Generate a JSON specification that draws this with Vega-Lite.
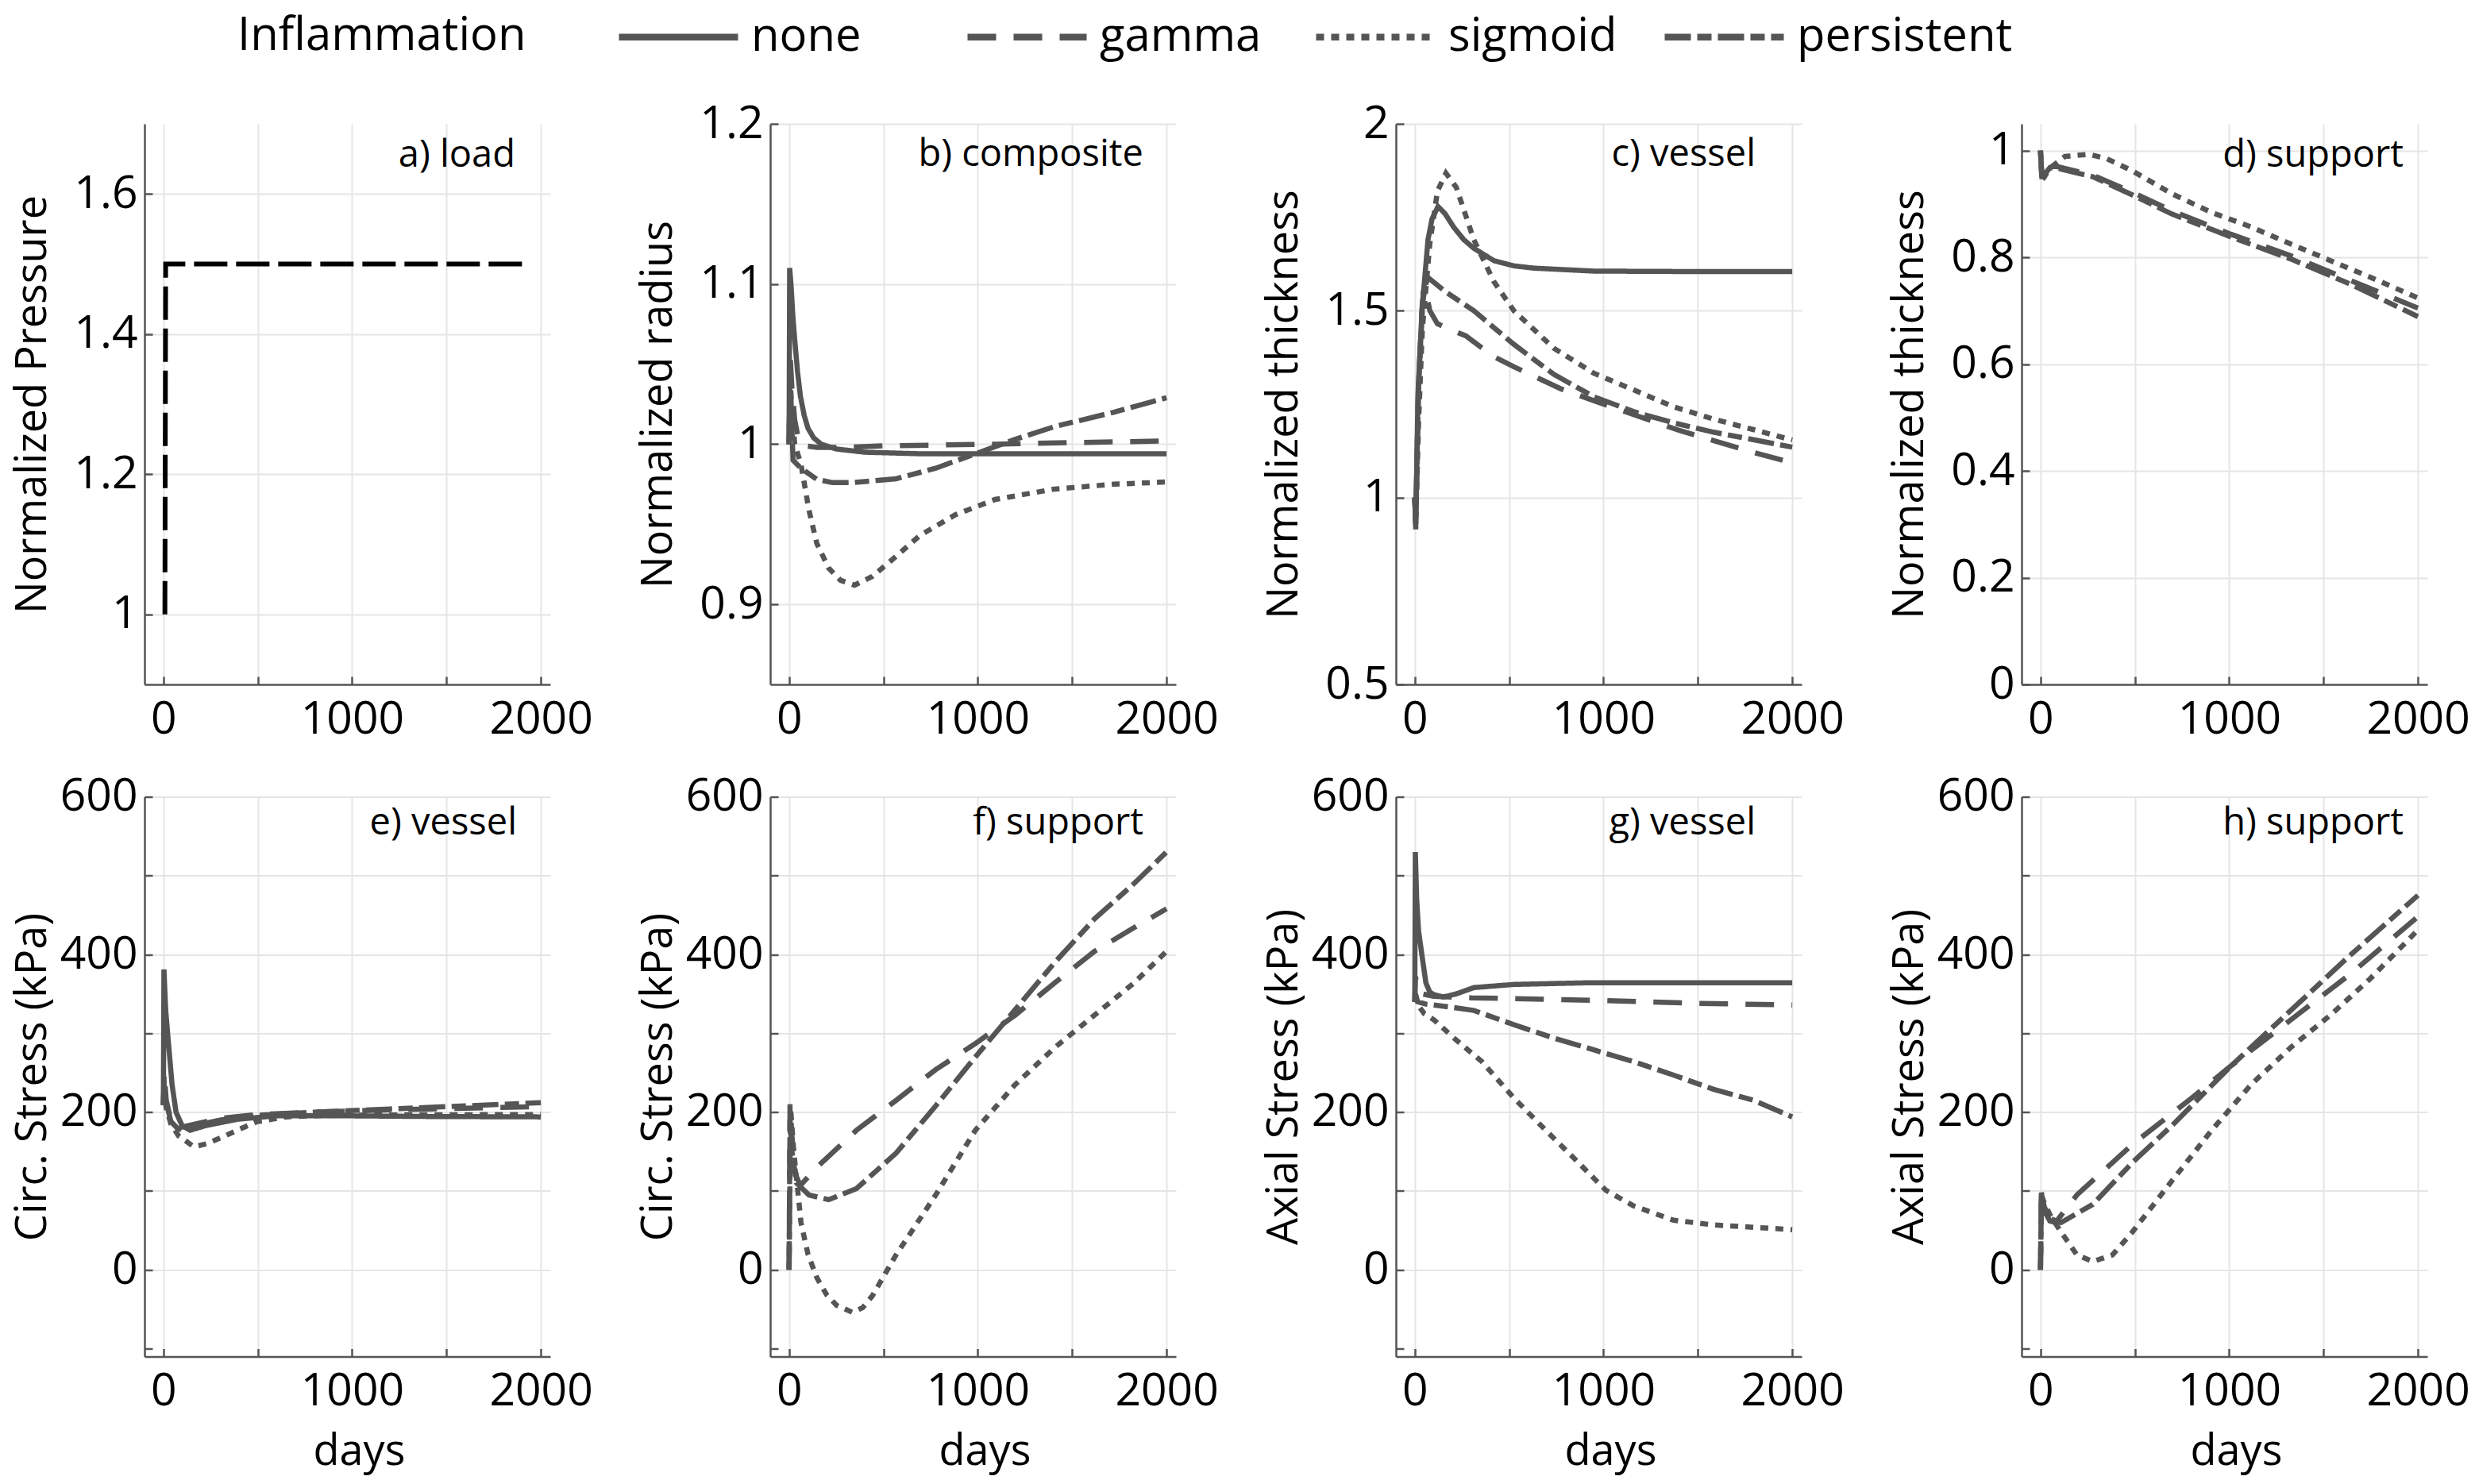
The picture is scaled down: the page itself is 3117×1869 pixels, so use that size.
{
  "$schema": "https://vega.github.io/schema/vega-lite/v6.json",
  "background": "white",
  "padding": {"left": 14, "top": 17, "right": 4, "bottom": 12},
  "columns": 4,
  "spacing": {"row": 141.5, "column": 277},
  "bounds": "flush",
  "align": "all",
  "config": {
    "view": {"stroke": null},
    "font": "Open Sans",
    "axis": {
      "labelFont": "Open Sans", "labelFontSize": 57, "labelColor": "black",
      "titleFont": "Open Sans", "titleFontSize": 54, "titleFontWeight": "normal", "titleColor": "black",
      "titleLimit": 2000, "labelLimit": 400,
      "domainColor": "#555555", "domainWidth": 2.5,
      "gridColor": "#e5e5e5", "gridWidth": 2,
      "tickColor": "#555555", "tickWidth": 2.5, "tickSize": -10,
      "labelOverlap": false, "labelFlush": false
    },
    "axisX": {"labelPadding": 26},
    "axisY": {"labelPadding": 19},
    "title": {"font": "Open Sans", "fontSize": 47, "fontWeight": "normal", "color": "black", "anchor": "end", "frame": "group", "orient": "top", "baseline": "alphabetic"}
  },
  "datasets": {
    "curves": [
      {"panel":"a","day":8,"value":1.0},{"panel":"a","day":12,"value":1.5},{"panel":"a","day":1940,"value":1.5},

      {"panel":"b","inflammation":"none","day":0,"value":1.0},{"panel":"b","inflammation":"none","day":3,"value":1.11},{"panel":"b","inflammation":"none","day":10,"value":1.1},{"panel":"b","inflammation":"none","day":20,"value":1.08},{"panel":"b","inflammation":"none","day":30,"value":1.065},{"panel":"b","inflammation":"none","day":45,"value":1.045},{"panel":"b","inflammation":"none","day":60,"value":1.03},{"panel":"b","inflammation":"none","day":80,"value":1.018},{"panel":"b","inflammation":"none","day":100,"value":1.01},{"panel":"b","inflammation":"none","day":130,"value":1.004},{"panel":"b","inflammation":"none","day":170,"value":1.0},{"panel":"b","inflammation":"none","day":250,"value":0.997},{"panel":"b","inflammation":"none","day":400,"value":0.995},{"panel":"b","inflammation":"none","day":700,"value":0.994},{"panel":"b","inflammation":"none","day":1200,"value":0.994},{"panel":"b","inflammation":"none","day":2000,"value":0.994},
      {"panel":"b","inflammation":"gamma","day":0,"value":1.0},{"panel":"b","inflammation":"gamma","day":6,"value":1.055},{"panel":"b","inflammation":"gamma","day":15,"value":1.035},{"panel":"b","inflammation":"gamma","day":30,"value":1.015},{"panel":"b","inflammation":"gamma","day":50,"value":1.003},{"panel":"b","inflammation":"gamma","day":80,"value":0.999},{"panel":"b","inflammation":"gamma","day":150,"value":0.998},{"panel":"b","inflammation":"gamma","day":300,"value":0.998},{"panel":"b","inflammation":"gamma","day":500,"value":0.999},{"panel":"b","inflammation":"gamma","day":800,"value":0.9995},{"panel":"b","inflammation":"gamma","day":1100,"value":1.0},{"panel":"b","inflammation":"gamma","day":1500,"value":1.001},{"panel":"b","inflammation":"gamma","day":2000,"value":1.002},
      {"panel":"b","inflammation":"sigmoid","day":0,"value":1.0},{"panel":"b","inflammation":"sigmoid","day":5,"value":1.04},{"panel":"b","inflammation":"sigmoid","day":15,"value":1.02},{"panel":"b","inflammation":"sigmoid","day":30,"value":1.0},{"panel":"b","inflammation":"sigmoid","day":63,"value":0.9875},{"panel":"b","inflammation":"sigmoid","day":105,"value":0.959},{"panel":"b","inflammation":"sigmoid","day":147,"value":0.938},{"panel":"b","inflammation":"sigmoid","day":210,"value":0.9226},{"panel":"b","inflammation":"sigmoid","day":273,"value":0.915},{"panel":"b","inflammation":"sigmoid","day":347,"value":0.912},{"panel":"b","inflammation":"sigmoid","day":441,"value":0.9174},{"panel":"b","inflammation":"sigmoid","day":567,"value":0.93},{"panel":"b","inflammation":"sigmoid","day":693,"value":0.943},{"panel":"b","inflammation":"sigmoid","day":882,"value":0.956},{"panel":"b","inflammation":"sigmoid","day":1092,"value":0.9655},{"panel":"b","inflammation":"sigmoid","day":1407,"value":0.972},{"panel":"b","inflammation":"sigmoid","day":1722,"value":0.975},{"panel":"b","inflammation":"sigmoid","day":2000,"value":0.9764},
      {"panel":"b","inflammation":"persistent","day":0,"value":1.0},{"panel":"b","inflammation":"persistent","day":5,"value":1.05},{"panel":"b","inflammation":"persistent","day":12,"value":1.02},{"panel":"b","inflammation":"persistent","day":21,"value":0.99},{"panel":"b","inflammation":"persistent","day":63,"value":0.985},{"panel":"b","inflammation":"persistent","day":147,"value":0.978},{"panel":"b","inflammation":"persistent","day":231,"value":0.976},{"panel":"b","inflammation":"persistent","day":336,"value":0.976},{"panel":"b","inflammation":"persistent","day":567,"value":0.9784},{"panel":"b","inflammation":"persistent","day":777,"value":0.985},{"panel":"b","inflammation":"persistent","day":987,"value":0.994},{"panel":"b","inflammation":"persistent","day":1197,"value":1.003},{"panel":"b","inflammation":"persistent","day":1407,"value":1.011},{"panel":"b","inflammation":"persistent","day":1722,"value":1.02},{"panel":"b","inflammation":"persistent","day":2000,"value":1.029},

      {"panel":"c","inflammation":"none","day":0,"value":1.0},{"panel":"c","inflammation":"none","day":5,"value":0.915},{"panel":"c","inflammation":"none","day":17,"value":1.277},{"panel":"c","inflammation":"none","day":38,"value":1.5},{"panel":"c","inflammation":"none","day":70,"value":1.69},{"panel":"c","inflammation":"none","day":91,"value":1.745},{"panel":"c","inflammation":"none","day":123,"value":1.779},{"panel":"c","inflammation":"none","day":160,"value":1.76},{"panel":"c","inflammation":"none","day":207,"value":1.723},{"panel":"c","inflammation":"none","day":260,"value":1.69},{"panel":"c","inflammation":"none","day":313,"value":1.667},{"panel":"c","inflammation":"none","day":419,"value":1.634},{"panel":"c","inflammation":"none","day":525,"value":1.62},{"panel":"c","inflammation":"none","day":630,"value":1.614},{"panel":"c","inflammation":"none","day":948,"value":1.606},{"panel":"c","inflammation":"none","day":1400,"value":1.605},{"panel":"c","inflammation":"none","day":2000,"value":1.605},
      {"panel":"c","inflammation":"sigmoid","day":0,"value":1.0},{"panel":"c","inflammation":"sigmoid","day":5,"value":0.93},{"panel":"c","inflammation":"sigmoid","day":20,"value":1.2},{"panel":"c","inflammation":"sigmoid","day":40,"value":1.45},{"panel":"c","inflammation":"sigmoid","day":80,"value":1.68},{"panel":"c","inflammation":"sigmoid","day":120,"value":1.82},{"panel":"c","inflammation":"sigmoid","day":165,"value":1.868},{"panel":"c","inflammation":"sigmoid","day":220,"value":1.83},{"panel":"c","inflammation":"sigmoid","day":313,"value":1.69},{"panel":"c","inflammation":"sigmoid","day":419,"value":1.578},{"panel":"c","inflammation":"sigmoid","day":525,"value":1.5},{"panel":"c","inflammation":"sigmoid","day":736,"value":1.4},{"panel":"c","inflammation":"sigmoid","day":948,"value":1.333},{"panel":"c","inflammation":"sigmoid","day":1160,"value":1.288},{"panel":"c","inflammation":"sigmoid","day":1371,"value":1.243},{"panel":"c","inflammation":"sigmoid","day":1583,"value":1.21},{"panel":"c","inflammation":"sigmoid","day":1794,"value":1.182},{"panel":"c","inflammation":"sigmoid","day":2000,"value":1.154},
      {"panel":"c","inflammation":"gamma","day":0,"value":1.0},{"panel":"c","inflammation":"gamma","day":5,"value":0.93},{"panel":"c","inflammation":"gamma","day":20,"value":1.3},{"panel":"c","inflammation":"gamma","day":40,"value":1.52},{"panel":"c","inflammation":"gamma","day":55,"value":1.56},{"panel":"c","inflammation":"gamma","day":80,"value":1.5},{"panel":"c","inflammation":"gamma","day":120,"value":1.465},{"panel":"c","inflammation":"gamma","day":186,"value":1.45},{"panel":"c","inflammation":"gamma","day":270,"value":1.433},{"panel":"c","inflammation":"gamma","day":419,"value":1.377},{"panel":"c","inflammation":"gamma","day":525,"value":1.35},{"panel":"c","inflammation":"gamma","day":694,"value":1.31},{"panel":"c","inflammation":"gamma","day":779,"value":1.29},{"panel":"c","inflammation":"gamma","day":1000,"value":1.25},{"panel":"c","inflammation":"gamma","day":1200,"value":1.215},{"panel":"c","inflammation":"gamma","day":1400,"value":1.18},{"panel":"c","inflammation":"gamma","day":1600,"value":1.15},{"panel":"c","inflammation":"gamma","day":1800,"value":1.12},{"panel":"c","inflammation":"gamma","day":2000,"value":1.093},
      {"panel":"c","inflammation":"persistent","day":0,"value":1.0},{"panel":"c","inflammation":"persistent","day":5,"value":0.93},{"panel":"c","inflammation":"persistent","day":20,"value":1.3},{"panel":"c","inflammation":"persistent","day":45,"value":1.55},{"panel":"c","inflammation":"persistent","day":70,"value":1.589},{"panel":"c","inflammation":"persistent","day":165,"value":1.55},{"panel":"c","inflammation":"persistent","day":313,"value":1.5},{"panel":"c","inflammation":"persistent","day":525,"value":1.41},{"panel":"c","inflammation":"persistent","day":736,"value":1.33},{"panel":"c","inflammation":"persistent","day":948,"value":1.27},{"panel":"c","inflammation":"persistent","day":1160,"value":1.23},{"panel":"c","inflammation":"persistent","day":1371,"value":1.2},{"panel":"c","inflammation":"persistent","day":1583,"value":1.175},{"panel":"c","inflammation":"persistent","day":1794,"value":1.155},{"panel":"c","inflammation":"persistent","day":2000,"value":1.135},

      {"panel":"d","inflammation":"sigmoid","day":0,"value":1.0},{"panel":"d","inflammation":"sigmoid","day":8,"value":0.945},{"panel":"d","inflammation":"sigmoid","day":20,"value":0.95},{"panel":"d","inflammation":"sigmoid","day":46,"value":0.966},{"panel":"d","inflammation":"sigmoid","day":130,"value":0.989},{"panel":"d","inflammation":"sigmoid","day":256,"value":0.993},{"panel":"d","inflammation":"sigmoid","day":350,"value":0.985},{"panel":"d","inflammation":"sigmoid","day":487,"value":0.962},{"panel":"d","inflammation":"sigmoid","day":697,"value":0.919},{"panel":"d","inflammation":"sigmoid","day":907,"value":0.884},{"panel":"d","inflammation":"sigmoid","day":1116,"value":0.857},{"panel":"d","inflammation":"sigmoid","day":1326,"value":0.825},{"panel":"d","inflammation":"sigmoid","day":1536,"value":0.794},{"panel":"d","inflammation":"sigmoid","day":1746,"value":0.763},{"panel":"d","inflammation":"sigmoid","day":2000,"value":0.724},
      {"panel":"d","inflammation":"gamma","day":0,"value":1.0},{"panel":"d","inflammation":"gamma","day":8,"value":0.945},{"panel":"d","inflammation":"gamma","day":20,"value":0.955},{"panel":"d","inflammation":"gamma","day":50,"value":0.97},{"panel":"d","inflammation":"gamma","day":88,"value":0.97},{"panel":"d","inflammation":"gamma","day":277,"value":0.954},{"panel":"d","inflammation":"gamma","day":487,"value":0.922},{"panel":"d","inflammation":"gamma","day":697,"value":0.887},{"panel":"d","inflammation":"gamma","day":1011,"value":0.843},{"panel":"d","inflammation":"gamma","day":1326,"value":0.803},{"panel":"d","inflammation":"gamma","day":1641,"value":0.757},{"panel":"d","inflammation":"gamma","day":2000,"value":0.705},
      {"panel":"d","inflammation":"persistent","day":0,"value":1.0},{"panel":"d","inflammation":"persistent","day":8,"value":0.945},{"panel":"d","inflammation":"persistent","day":20,"value":0.955},{"panel":"d","inflammation":"persistent","day":50,"value":0.968},{"panel":"d","inflammation":"persistent","day":88,"value":0.967},{"panel":"d","inflammation":"persistent","day":277,"value":0.951},{"panel":"d","inflammation":"persistent","day":487,"value":0.917},{"panel":"d","inflammation":"persistent","day":697,"value":0.881},{"panel":"d","inflammation":"persistent","day":1011,"value":0.838},{"panel":"d","inflammation":"persistent","day":1326,"value":0.797},{"panel":"d","inflammation":"persistent","day":1641,"value":0.75},{"panel":"d","inflammation":"persistent","day":2000,"value":0.689},

      {"panel":"e","inflammation":"none","day":0,"value":209},{"panel":"e","inflammation":"none","day":3,"value":381},{"panel":"e","inflammation":"none","day":12,"value":330},{"panel":"e","inflammation":"none","day":25,"value":293},{"panel":"e","inflammation":"none","day":46,"value":235},{"panel":"e","inflammation":"none","day":67,"value":200},{"panel":"e","inflammation":"none","day":99,"value":183},{"panel":"e","inflammation":"none","day":141,"value":177},{"panel":"e","inflammation":"none","day":225,"value":183},{"panel":"e","inflammation":"none","day":393,"value":191},{"panel":"e","inflammation":"none","day":603,"value":195.5},{"panel":"e","inflammation":"none","day":900,"value":195.5},{"panel":"e","inflammation":"none","day":1400,"value":194.5},{"panel":"e","inflammation":"none","day":2000,"value":194},
      {"panel":"e","inflammation":"gamma","day":0,"value":209},{"panel":"e","inflammation":"gamma","day":4,"value":250},{"panel":"e","inflammation":"gamma","day":15,"value":215},{"panel":"e","inflammation":"gamma","day":40,"value":190},{"panel":"e","inflammation":"gamma","day":80,"value":180},{"panel":"e","inflammation":"gamma","day":150,"value":184},{"panel":"e","inflammation":"gamma","day":300,"value":192},{"panel":"e","inflammation":"gamma","day":500,"value":197},{"panel":"e","inflammation":"gamma","day":800,"value":200},{"panel":"e","inflammation":"gamma","day":1200,"value":203},{"panel":"e","inflammation":"gamma","day":1600,"value":205},{"panel":"e","inflammation":"gamma","day":2000,"value":207},
      {"panel":"e","inflammation":"persistent","day":0,"value":209},{"panel":"e","inflammation":"persistent","day":4,"value":240},{"panel":"e","inflammation":"persistent","day":15,"value":212},{"panel":"e","inflammation":"persistent","day":40,"value":188},{"panel":"e","inflammation":"persistent","day":80,"value":178},{"panel":"e","inflammation":"persistent","day":150,"value":182},{"panel":"e","inflammation":"persistent","day":300,"value":190},{"panel":"e","inflammation":"persistent","day":500,"value":196},{"panel":"e","inflammation":"persistent","day":800,"value":200},{"panel":"e","inflammation":"persistent","day":1200,"value":204},{"panel":"e","inflammation":"persistent","day":1600,"value":208},{"panel":"e","inflammation":"persistent","day":2000,"value":212},
      {"panel":"e","inflammation":"sigmoid","day":0,"value":209},{"panel":"e","inflammation":"sigmoid","day":4,"value":230},{"panel":"e","inflammation":"sigmoid","day":15,"value":205},{"panel":"e","inflammation":"sigmoid","day":40,"value":185},{"panel":"e","inflammation":"sigmoid","day":80,"value":170},{"panel":"e","inflammation":"sigmoid","day":162,"value":156},{"panel":"e","inflammation":"sigmoid","day":230,"value":160},{"panel":"e","inflammation":"sigmoid","day":309,"value":168},{"panel":"e","inflammation":"sigmoid","day":400,"value":178},{"panel":"e","inflammation":"sigmoid","day":498,"value":188},{"panel":"e","inflammation":"sigmoid","day":650,"value":194},{"panel":"e","inflammation":"sigmoid","day":800,"value":195.5},{"panel":"e","inflammation":"sigmoid","day":1200,"value":196.5},{"panel":"e","inflammation":"sigmoid","day":2000,"value":197},

      {"panel":"f","inflammation":"gamma","day":0,"value":0},{"panel":"f","inflammation":"gamma","day":5,"value":210},{"panel":"f","inflammation":"gamma","day":15,"value":170},{"panel":"f","inflammation":"gamma","day":35,"value":120},{"panel":"f","inflammation":"gamma","day":60,"value":107},{"panel":"f","inflammation":"gamma","day":147,"value":130},{"panel":"f","inflammation":"gamma","day":357,"value":177},{"panel":"f","inflammation":"gamma","day":567,"value":215},{"panel":"f","inflammation":"gamma","day":777,"value":254},{"panel":"f","inflammation":"gamma","day":987,"value":287},{"panel":"f","inflammation":"gamma","day":1198,"value":323},{"panel":"f","inflammation":"gamma","day":1408,"value":364},{"panel":"f","inflammation":"gamma","day":1618,"value":404},{"panel":"f","inflammation":"gamma","day":1828,"value":434},{"panel":"f","inflammation":"gamma","day":2000,"value":458},
      {"panel":"f","inflammation":"persistent","day":0,"value":0},{"panel":"f","inflammation":"persistent","day":5,"value":190},{"panel":"f","inflammation":"persistent","day":15,"value":150},{"panel":"f","inflammation":"persistent","day":40,"value":110},{"panel":"f","inflammation":"persistent","day":105,"value":95},{"panel":"f","inflammation":"persistent","day":210,"value":89},{"panel":"f","inflammation":"persistent","day":357,"value":103},{"panel":"f","inflammation":"persistent","day":567,"value":148},{"panel":"f","inflammation":"persistent","day":777,"value":208},{"panel":"f","inflammation":"persistent","day":987,"value":270},{"panel":"f","inflammation":"persistent","day":1198,"value":330},{"panel":"f","inflammation":"persistent","day":1408,"value":390},{"panel":"f","inflammation":"persistent","day":1618,"value":445},{"panel":"f","inflammation":"persistent","day":1828,"value":490},{"panel":"f","inflammation":"persistent","day":2000,"value":530},
      {"panel":"f","inflammation":"sigmoid","day":0,"value":0},{"panel":"f","inflammation":"sigmoid","day":8,"value":205},{"panel":"f","inflammation":"sigmoid","day":25,"value":150},{"panel":"f","inflammation":"sigmoid","day":63,"value":60},{"panel":"f","inflammation":"sigmoid","day":100,"value":20},{"panel":"f","inflammation":"sigmoid","day":147,"value":-10},{"panel":"f","inflammation":"sigmoid","day":200,"value":-32},{"panel":"f","inflammation":"sigmoid","day":252,"value":-45},{"panel":"f","inflammation":"sigmoid","day":336,"value":-54},{"panel":"f","inflammation":"sigmoid","day":390,"value":-48},{"panel":"f","inflammation":"sigmoid","day":441,"value":-33},{"panel":"f","inflammation":"sigmoid","day":567,"value":19},{"panel":"f","inflammation":"sigmoid","day":777,"value":95},{"panel":"f","inflammation":"sigmoid","day":987,"value":177},{"panel":"f","inflammation":"sigmoid","day":1198,"value":235},{"panel":"f","inflammation":"sigmoid","day":1408,"value":282},{"panel":"f","inflammation":"sigmoid","day":1618,"value":323},{"panel":"f","inflammation":"sigmoid","day":1828,"value":364},{"panel":"f","inflammation":"sigmoid","day":2000,"value":404},

      {"panel":"g","inflammation":"none","day":0,"value":340},{"panel":"g","inflammation":"none","day":3,"value":530},{"panel":"g","inflammation":"none","day":10,"value":470},{"panel":"g","inflammation":"none","day":20,"value":430},{"panel":"g","inflammation":"none","day":38,"value":399},{"panel":"g","inflammation":"none","day":59,"value":364},{"panel":"g","inflammation":"none","day":80,"value":352},{"panel":"g","inflammation":"none","day":102,"value":349},{"panel":"g","inflammation":"none","day":150,"value":346},{"panel":"g","inflammation":"none","day":220,"value":350},{"panel":"g","inflammation":"none","day":313,"value":358},{"panel":"g","inflammation":"none","day":525,"value":362},{"panel":"g","inflammation":"none","day":900,"value":364},{"panel":"g","inflammation":"none","day":2000,"value":364},
      {"panel":"g","inflammation":"gamma","day":0,"value":340},{"panel":"g","inflammation":"gamma","day":4,"value":372},{"panel":"g","inflammation":"gamma","day":15,"value":355},{"panel":"g","inflammation":"gamma","day":40,"value":350},{"panel":"g","inflammation":"gamma","day":100,"value":347},{"panel":"g","inflammation":"gamma","day":300,"value":345},{"panel":"g","inflammation":"gamma","day":525,"value":344},{"panel":"g","inflammation":"gamma","day":1000,"value":341.5},{"panel":"g","inflammation":"gamma","day":1500,"value":338},{"panel":"g","inflammation":"gamma","day":2000,"value":336},
      {"panel":"g","inflammation":"persistent","day":0,"value":340},{"panel":"g","inflammation":"persistent","day":4,"value":350},{"panel":"g","inflammation":"persistent","day":15,"value":340},{"panel":"g","inflammation":"persistent","day":59,"value":337},{"panel":"g","inflammation":"persistent","day":200,"value":333},{"panel":"g","inflammation":"persistent","day":313,"value":329},{"panel":"g","inflammation":"persistent","day":525,"value":311},{"panel":"g","inflammation":"persistent","day":736,"value":294},{"panel":"g","inflammation":"persistent","day":948,"value":279},{"panel":"g","inflammation":"persistent","day":1160,"value":264},{"panel":"g","inflammation":"persistent","day":1371,"value":247},{"panel":"g","inflammation":"persistent","day":1583,"value":229},{"panel":"g","inflammation":"persistent","day":1795,"value":215},{"panel":"g","inflammation":"persistent","day":2000,"value":194},
      {"panel":"g","inflammation":"sigmoid","day":0,"value":340},{"panel":"g","inflammation":"sigmoid","day":4,"value":345},{"panel":"g","inflammation":"sigmoid","day":20,"value":335},{"panel":"g","inflammation":"sigmoid","day":50,"value":325},{"panel":"g","inflammation":"sigmoid","day":102,"value":317},{"panel":"g","inflammation":"sigmoid","day":207,"value":294},{"panel":"g","inflammation":"sigmoid","day":356,"value":264},{"panel":"g","inflammation":"sigmoid","day":525,"value":218},{"panel":"g","inflammation":"sigmoid","day":694,"value":177},{"panel":"g","inflammation":"sigmoid","day":842,"value":142},{"panel":"g","inflammation":"sigmoid","day":1012,"value":101},{"panel":"g","inflammation":"sigmoid","day":1160,"value":81},{"panel":"g","inflammation":"sigmoid","day":1371,"value":63},{"panel":"g","inflammation":"sigmoid","day":1583,"value":57},{"panel":"g","inflammation":"sigmoid","day":1795,"value":54},{"panel":"g","inflammation":"sigmoid","day":2000,"value":51},

      {"panel":"h","inflammation":"gamma","day":0,"value":0},{"panel":"h","inflammation":"gamma","day":5,"value":95},{"panel":"h","inflammation":"gamma","day":20,"value":75},{"panel":"h","inflammation":"gamma","day":50,"value":62},{"panel":"h","inflammation":"gamma","day":80,"value":60},{"panel":"h","inflammation":"gamma","day":193,"value":95},{"panel":"h","inflammation":"gamma","day":487,"value":159},{"panel":"h","inflammation":"gamma","day":802,"value":218},{"panel":"h","inflammation":"gamma","day":1011,"value":259},{"panel":"h","inflammation":"gamma","day":1326,"value":317},{"panel":"h","inflammation":"gamma","day":1641,"value":375},{"panel":"h","inflammation":"gamma","day":2000,"value":448},
      {"panel":"h","inflammation":"persistent","day":0,"value":0},{"panel":"h","inflammation":"persistent","day":5,"value":98},{"panel":"h","inflammation":"persistent","day":20,"value":80},{"panel":"h","inflammation":"persistent","day":50,"value":65},{"panel":"h","inflammation":"persistent","day":109,"value":60},{"panel":"h","inflammation":"persistent","day":277,"value":83},{"panel":"h","inflammation":"persistent","day":487,"value":136},{"panel":"h","inflammation":"persistent","day":697,"value":183},{"panel":"h","inflammation":"persistent","day":1011,"value":259},{"panel":"h","inflammation":"persistent","day":1326,"value":329},{"panel":"h","inflammation":"persistent","day":1641,"value":399},{"panel":"h","inflammation":"persistent","day":2000,"value":475},
      {"panel":"h","inflammation":"sigmoid","day":0,"value":0},{"panel":"h","inflammation":"sigmoid","day":5,"value":95},{"panel":"h","inflammation":"sigmoid","day":20,"value":85},{"panel":"h","inflammation":"sigmoid","day":50,"value":70},{"panel":"h","inflammation":"sigmoid","day":109,"value":48},{"panel":"h","inflammation":"sigmoid","day":193,"value":19},{"panel":"h","inflammation":"sigmoid","day":277,"value":10.5},{"panel":"h","inflammation":"sigmoid","day":382,"value":19},{"panel":"h","inflammation":"sigmoid","day":487,"value":48},{"panel":"h","inflammation":"sigmoid","day":697,"value":113},{"panel":"h","inflammation":"sigmoid","day":907,"value":177},{"panel":"h","inflammation":"sigmoid","day":1116,"value":235},{"panel":"h","inflammation":"sigmoid","day":1326,"value":282},{"panel":"h","inflammation":"sigmoid","day":1536,"value":323},{"panel":"h","inflammation":"sigmoid","day":1746,"value":369},{"panel":"h","inflammation":"sigmoid","day":2000,"value":431}
    ]
  },
  "concat": [
    {
      "width": 511, "height": 706,
      "title": {"text": "a) load", "offset": -64, "dx": -44},
      "data": {"name": "curves"},
      "transform": [{"filter": "datum.panel === 'a'"}],
      "mark": {"type": "line", "color": "#000000", "strokeWidth": 6, "strokeDash": [42, 11]},
      "encoding": {
        "x": {"field": "day", "type": "quantitative", "scale": {"domain": [-100, 2050], "nice": false, "zero": false},
              "axis": {"values": [0, 500, 1000, 1500, 2000], "format": "d", "labelExpr": "datum.value % 1000 === 0 ? datum.label : ''", "title": null}},
        "y": {"field": "value", "type": "quantitative", "scale": {"domain": [0.9, 1.7], "nice": false, "zero": false},
              "axis": {"values": [1, 1.2, 1.4, 1.6], "format": "~g", "title": "Normalized Pressure", "titleX": -125, "titleBaseline": "alphabetic"}}
      }
    },
    {
      "width": 511, "height": 706,
      "title": {"text": "b) composite", "offset": -92, "dx": -41},
      "data": {"name": "curves"},
      "transform": [{"filter": "datum.panel === 'b'"}],
      "mark": {"type": "line", "color": "#555555", "strokeWidth": 6.5},
      "encoding": {
        "x": {"field": "day", "type": "quantitative", "scale": {"domain": [-100, 2050], "nice": false, "zero": false},
              "axis": {"values": [0, 500, 1000, 1500, 2000], "format": "d", "labelExpr": "datum.value % 1000 === 0 ? datum.label : ''", "title": null}},
        "y": {"field": "value", "type": "quantitative", "scale": {"domain": [0.85, 1.2], "nice": false, "zero": false},
              "axis": {"values": [0.9, 1, 1.1, 1.2], "format": "~g", "title": "Normalized radius", "titleX": -125, "titleBaseline": "alphabetic"}},
        "strokeDash": {"field": "inflammation", "type": "nominal",
              "scale": {"domain": ["none", "gamma", "sigmoid", "persistent"], "range": [[1, 0], [36, 22], [10, 9], [33, 8, 18, 8]]},
              "legend": {"title": "Inflammation", "orient": "none", "legendX": 117, "legendY": -139,
                         "direction": "horizontal", "columns": 4, "gridAlign": "all", "columnPadding": -18,
                         "titleOrient": "left", "titlePadding": 116, "titleLimit": 600,
                         "titleFont": "Open Sans", "titleFontSize": 58, "titleFontWeight": "normal", "titleColor": "black",
                         "labelFont": "Open Sans", "labelFontSize": 58, "labelColor": "black", "labelOffset": 62, "labelLimit": 600,
                         "symbolType": "M-3,0H3", "symbolSize": 2500, "symbolStrokeWidth": 8.5, "symbolStrokeColor": "#555555",
                         "symbolFillColor": "transparent", "symbolOffset": 46}}
      }
    },
    {
      "width": 511, "height": 706,
      "title": {"text": "c) vessel", "offset": -92, "dx": -58},
      "data": {"name": "curves"},
      "transform": [{"filter": "datum.panel === 'c'"}],
      "mark": {"type": "line", "color": "#555555", "strokeWidth": 6.5},
      "encoding": {
        "x": {"field": "day", "type": "quantitative", "scale": {"domain": [-100, 2050], "nice": false, "zero": false},
              "axis": {"values": [0, 500, 1000, 1500, 2000], "format": "d", "labelExpr": "datum.value % 1000 === 0 ? datum.label : ''", "title": null}},
        "y": {"field": "value", "type": "quantitative", "scale": {"domain": [0.5, 2], "nice": false, "zero": false},
              "axis": {"values": [0.5, 1, 1.5, 2], "format": "~g", "title": "Normalized thickness", "titleX": -125, "titleBaseline": "alphabetic"}},
        "strokeDash": {"field": "inflammation", "type": "nominal",
              "scale": {"domain": ["none", "gamma", "sigmoid", "persistent"], "range": [[1, 0], [36, 22], [10, 9], [33, 8, 18, 8]]}}
      }
    },
    {
      "width": 511, "height": 706,
      "title": {"text": "d) support", "offset": -64, "dx": -30},
      "data": {"name": "curves"},
      "transform": [{"filter": "datum.panel === 'd'"}],
      "mark": {"type": "line", "color": "#555555", "strokeWidth": 6.5},
      "encoding": {
        "x": {"field": "day", "type": "quantitative", "scale": {"domain": [-100, 2050], "nice": false, "zero": false},
              "axis": {"values": [0, 500, 1000, 1500, 2000], "format": "d", "labelExpr": "datum.value % 1000 === 0 ? datum.label : ''", "title": null}},
        "y": {"field": "value", "type": "quantitative", "scale": {"domain": [0, 1.05], "nice": false, "zero": false},
              "axis": {"values": [0, 0.2, 0.4, 0.6, 0.8, 1], "format": "~g", "title": "Normalized thickness", "titleX": -125, "titleBaseline": "alphabetic"}},
        "strokeDash": {"field": "inflammation", "type": "nominal",
              "scale": {"domain": ["none", "gamma", "sigmoid", "persistent"], "range": [[1, 0], [36, 22], [10, 9], [33, 8, 18, 8]]}}
      }
    },
    {
      "width": 511, "height": 705,
      "title": {"text": "e) vessel", "offset": -86, "dx": -42},
      "data": {"name": "curves"},
      "transform": [{"filter": "datum.panel === 'e'"}],
      "mark": {"type": "line", "color": "#555555", "strokeWidth": 6.5},
      "encoding": {
        "x": {"field": "day", "type": "quantitative", "scale": {"domain": [-100, 2050], "nice": false, "zero": false},
              "axis": {"values": [0, 500, 1000, 1500, 2000], "format": "d", "labelExpr": "datum.value % 1000 === 0 ? datum.label : ''", "title": "days", "titleX": 270, "titleY": 136, "titleBaseline": "alphabetic"}},
        "y": {"field": "value", "type": "quantitative", "scale": {"domain": [-110, 600], "nice": false, "zero": false},
              "axis": {"values": [-100, 0, 100, 200, 300, 400, 500, 600], "format": "d", "labelExpr": "datum.value % 200 === 0 ? datum.label : ''",
                       "gridColor": {"condition": {"test": "datum.value < 0", "value": "transparent"}, "value": "#e5e5e5"},
                       "title": "Circ. Stress (kPa)", "titleX": -125, "titleBaseline": "alphabetic"}},
        "strokeDash": {"field": "inflammation", "type": "nominal",
              "scale": {"domain": ["none", "gamma", "sigmoid", "persistent"], "range": [[1, 0], [36, 22], [10, 9], [33, 8, 18, 8]]}}
      }
    },
    {
      "width": 511, "height": 705,
      "title": {"text": "f) support", "offset": -86, "dx": -41},
      "data": {"name": "curves"},
      "transform": [{"filter": "datum.panel === 'f'"}],
      "mark": {"type": "line", "color": "#555555", "strokeWidth": 6.5},
      "encoding": {
        "x": {"field": "day", "type": "quantitative", "scale": {"domain": [-100, 2050], "nice": false, "zero": false},
              "axis": {"values": [0, 500, 1000, 1500, 2000], "format": "d", "labelExpr": "datum.value % 1000 === 0 ? datum.label : ''", "title": "days", "titleX": 270, "titleY": 136, "titleBaseline": "alphabetic"}},
        "y": {"field": "value", "type": "quantitative", "scale": {"domain": [-110, 600], "nice": false, "zero": false},
              "axis": {"values": [-100, 0, 100, 200, 300, 400, 500, 600], "format": "d", "labelExpr": "datum.value % 200 === 0 ? datum.label : ''",
                       "gridColor": {"condition": {"test": "datum.value < 0", "value": "transparent"}, "value": "#e5e5e5"},
                       "title": "Circ. Stress (kPa)", "titleX": -125, "titleBaseline": "alphabetic"}},
        "strokeDash": {"field": "inflammation", "type": "nominal",
              "scale": {"domain": ["none", "gamma", "sigmoid", "persistent"], "range": [[1, 0], [36, 22], [10, 9], [33, 8, 18, 8]]}}
      }
    },
    {
      "width": 511, "height": 705,
      "title": {"text": "g) vessel", "offset": -86, "dx": -58},
      "data": {"name": "curves"},
      "transform": [{"filter": "datum.panel === 'g'"}],
      "mark": {"type": "line", "color": "#555555", "strokeWidth": 6.5},
      "encoding": {
        "x": {"field": "day", "type": "quantitative", "scale": {"domain": [-100, 2050], "nice": false, "zero": false},
              "axis": {"values": [0, 500, 1000, 1500, 2000], "format": "d", "labelExpr": "datum.value % 1000 === 0 ? datum.label : ''", "title": "days", "titleX": 270, "titleY": 136, "titleBaseline": "alphabetic"}},
        "y": {"field": "value", "type": "quantitative", "scale": {"domain": [-110, 600], "nice": false, "zero": false},
              "axis": {"values": [-100, 0, 100, 200, 300, 400, 500, 600], "format": "d", "labelExpr": "datum.value % 200 === 0 ? datum.label : ''",
                       "gridColor": {"condition": {"test": "datum.value < 0", "value": "transparent"}, "value": "#e5e5e5"},
                       "title": "Axial Stress (kPa)", "titleX": -125, "titleBaseline": "alphabetic"}},
        "strokeDash": {"field": "inflammation", "type": "nominal",
              "scale": {"domain": ["none", "gamma", "sigmoid", "persistent"], "range": [[1, 0], [36, 22], [10, 9], [33, 8, 18, 8]]}}
      }
    },
    {
      "width": 511, "height": 705,
      "title": {"text": "h) support", "offset": -86, "dx": -30},
      "data": {"name": "curves"},
      "transform": [{"filter": "datum.panel === 'h'"}],
      "mark": {"type": "line", "color": "#555555", "strokeWidth": 6.5},
      "encoding": {
        "x": {"field": "day", "type": "quantitative", "scale": {"domain": [-100, 2050], "nice": false, "zero": false},
              "axis": {"values": [0, 500, 1000, 1500, 2000], "format": "d", "labelExpr": "datum.value % 1000 === 0 ? datum.label : ''", "title": "days", "titleX": 270, "titleY": 136, "titleBaseline": "alphabetic"}},
        "y": {"field": "value", "type": "quantitative", "scale": {"domain": [-110, 600], "nice": false, "zero": false},
              "axis": {"values": [-100, 0, 100, 200, 300, 400, 500, 600], "format": "d", "labelExpr": "datum.value % 200 === 0 ? datum.label : ''",
                       "gridColor": {"condition": {"test": "datum.value < 0", "value": "transparent"}, "value": "#e5e5e5"},
                       "title": "Axial Stress (kPa)", "titleX": -125, "titleBaseline": "alphabetic"}},
        "strokeDash": {"field": "inflammation", "type": "nominal",
              "scale": {"domain": ["none", "gamma", "sigmoid", "persistent"], "range": [[1, 0], [36, 22], [10, 9], [33, 8, 18, 8]]}}
      }
    }
  ]
}
